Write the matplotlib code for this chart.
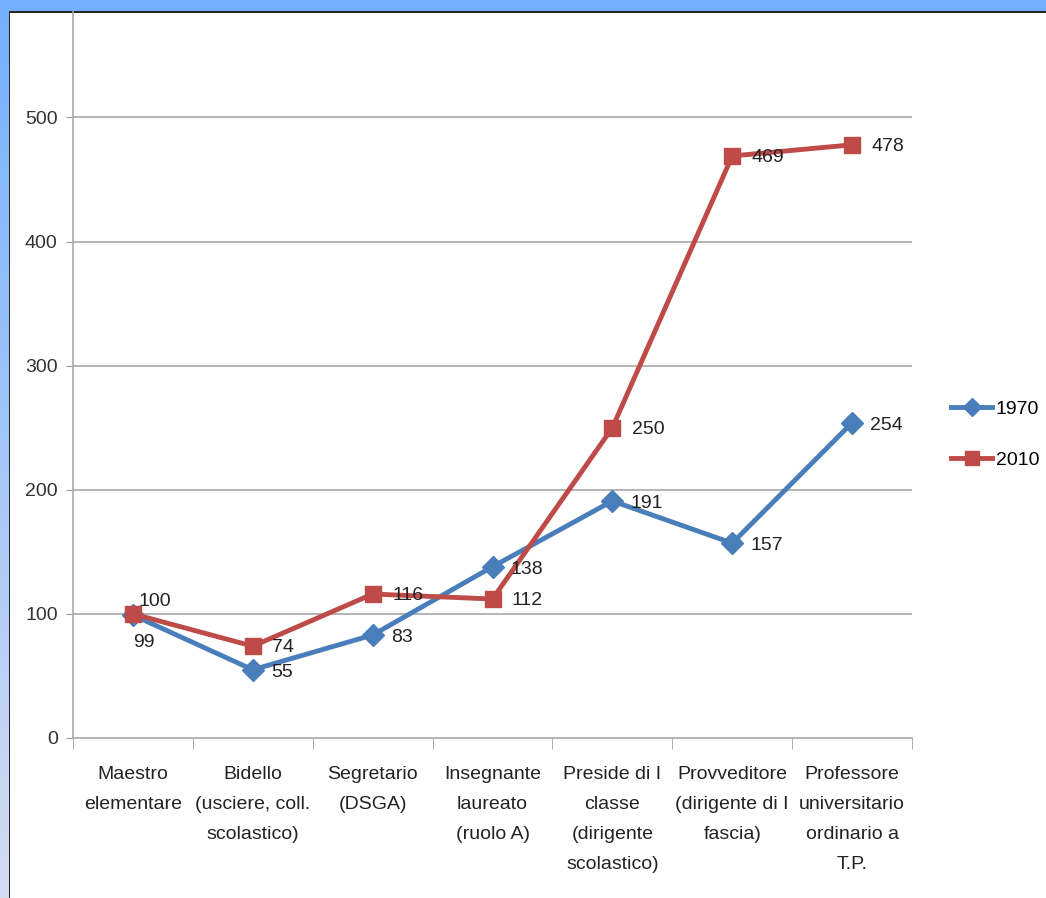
import numpy as np
import matplotlib
matplotlib.use('Agg')
import matplotlib.pyplot as plt

plt.rcParams['font.family'] = ['Liberation Sans Narrow', 'Liberation Sans', 'DejaVu Sans']

categories = ['Maestro\nelementare', 'Bidello\n(usciere, coll.\nscolastico)', 'Segretario\n(DSGA)',
              'Insegnante\nlaureato\n(ruolo A)', 'Preside di I\nclasse\n(dirigente\nscolastico)',
              'Provveditore\n(dirigente di I\nfascia)', 'Professore\nuniversitario\nordinario a\nT.P.']
v1970 = [99, 55, 83, 138, 191, 157, 254]
v2010 = [100, 74, 116, 112, 250, 469, 478]
yticks = [0, 100, 200, 300, 400, 500]

blue = '#4A7EBB'
red = '#BE4B48'

W, H = 1046, 898
fig = plt.figure(figsize=(W / 100, H / 100), dpi=100)

# background frame: blue top bar, gradient left strip
bg = fig.add_axes([0, 0, 1, 1])
img = np.ones((H, W, 3))
top = np.array([0x74, 0xB0, 0xFF]) / 255
bot = np.array([0xD4, 0xDC, 0xF2]) / 255
t = np.linspace(0, 1, H)[:, None]
img[:, :9, :] = (top * (1 - t) + bot * t)[:, None, :]
img[:11, :, :] = top
img[11:13, 9:, :] = 0.15
img[11:, 9:10, :] = 0.15
bg.imshow(img, aspect='auto', extent=[0, W, H, 0])
bg.axis('off')

ax = fig.add_axes([73 / W, 160 / H, (912 - 73) / W, (738 - 12) / H])
ax.patch.set_alpha(0)
x = np.arange(len(categories))
ax.plot(x, v1970, color=blue, lw=3.5, marker='D', ms=11, label='1970', zorder=3)
ax.plot(x, v2010, color=red, lw=3.5, marker='s', ms=12, label='2010', zorder=3)

for i, v in enumerate(v1970):
    if i == 0:
        ax.annotate(str(v), (x[i], v), xytext=(0, -20), textcoords='offset points',
                    ha='left', va='center', fontsize=14, color='#222222')
    else:
        ax.annotate(str(v), (x[i], v), xytext=(13, -2), textcoords='offset points',
                    ha='left', va='center', fontsize=14, color='#222222')
for i, v in enumerate(v2010):
    if i == 0:
        ax.annotate(str(v), (x[i], v), xytext=(4, 9), textcoords='offset points',
                    ha='left', va='center', fontsize=14, color='#222222')
    else:
        ax.annotate(str(v), (x[i], v), xytext=(14, -1), textcoords='offset points',
                    ha='left', va='center', fontsize=14, color='#222222')

ax.set_xlim(-0.5, len(categories) - 0.5)
ax.set_ylim(0, 585)
ax.set_yticks(yticks)
ax.set_yticklabels([str(v) for v in yticks], fontsize=14, color='#333333')
ax.set_xticks(x)
ax.set_xticklabels(categories, fontsize=14, color='#222222', va='top', linespacing=2.0)
ax.set_xticks(np.arange(-0.5, len(categories)), minor=True)
ax.tick_params(axis='x', which='major', length=0, pad=20)
ax.tick_params(axis='x', which='minor', length=8, color='#A0A0A0', direction='out')
ax.tick_params(axis='y', length=5, color='#A0A0A0', pad=6)
for yv in yticks[1:]:
    ax.axhline(yv, color='#A8A8A8', lw=1.2, zorder=1)
for s in ['top', 'right']:
    ax.spines[s].set_visible(False)
ax.spines['left'].set_color('#A8A8A8')
ax.spines['bottom'].set_color('#A8A8A8')
ax.spines['left'].set_linewidth(1.2)
ax.spines['bottom'].set_linewidth(1.2)

ax.legend(loc='center left', bbox_to_anchor=(1.035, 0.418), frameon=False, fontsize=14,
          borderpad=0, handlelength=2.1, handletextpad=0.2, labelspacing=1.75, markerscale=0.8)

fig.savefig('out.png', dpi=100)
